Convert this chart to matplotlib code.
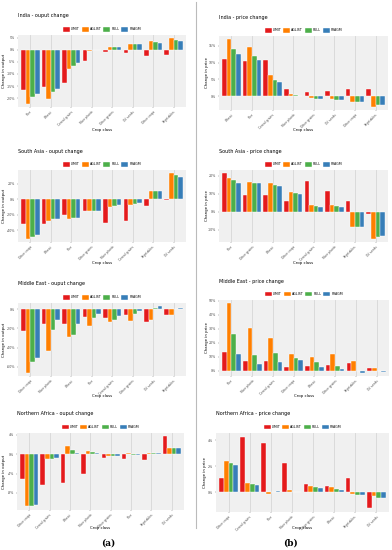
import numpy as np
import matplotlib
matplotlib.use("Agg")
import matplotlib.pyplot as plt

W, H = 392, 550

scenarios = ["LIMIT", "AGLIST", "FULL", "FRAGM"]
colors = ["#E41A1C", "#FF7F00", "#4DAF4A", "#377EB8"]

# India - output change
india_output_cats = ["Rice", "Wheat", "Cereal grains", "Fiber plants",
                     "Other grains", "Oil seeds", "Other crops", "Vegetables"]
india_output = {
    "LIMIT": [-16.8, -15.3, -13.9, -4.7, -0.9, -1.5, -2.6, -2.3],
    "AGLIST": [-22.3, -20.3, -8.1, -0.7, 1.3, 2.2, 3.4, 4.7],
    "FULL": [-19.6, -17.6, -6.6, -0.3, 1.3, 2.2, 3.1, 3.9],
    "FRAGM": [-18.4, -16.1, -5.7, -0.3, 1.3, 2.2, 2.8, 3.6],
}

# India - price change
india_price_cats = ["Wheat", "Rice", "Cereal grains", "Fiber plants",
                    "Other grains", "Oil seeds", "Other crops", "Vegetables"]
india_price = {
    "LIMIT": [11.1, 10.5, 10.9, 2.1, 1.2, 1.6, 2.1, 2.1],
    "AGLIST": [16.9, 14.6, 6.4, 0.6, -0.5, -0.9, -1.8, -3.1],
    "FULL": [13.9, 12.1, 4.9, 0.3, -0.7, -1.1, -1.7, -2.7],
    "FRAGM": [12.6, 10.7, 4.3, 0.05, -0.9, -1.1, -1.7, -2.7],
}

# South Asia - output change
sasia_output_cats = ["Other crops", "Wheat", "Rice", "Other grains",
                     "Fiber plants", "Cereal grains", "Vegetables", "Oil seeds"]
sasia_output = {
    "LIMIT": [-32, -32, -21, -15.5, -31, -28, -8.6, -1.3],
    "AGLIST": [-51, -28, -25, -15.5, -10, -7.7, 10.8, 33.5],
    "FULL": [-49, -26, -24.5, -15.5, -9, -6, 10.3, 31.4],
    "FRAGM": [-46, -25, -24, -15.5, -8, -5, 10.3, 28.8],
}

# South Asia - price change
sasia_price_cats = ["Rice", "Other grains", "Wheat", "Other crops",
                    "Cereal grains", "Fiber plants", "Vegetables", "Oil seeds"]
sasia_price = {
    "LIMIT": [21.5, 9.6, 9.6, 6.2, 17.1, 11.6, 5.9, -0.9],
    "AGLIST": [18.7, 16.7, 16.1, 11.0, 3.7, 4.0, -8.4, -14.9],
    "FULL": [17.6, 16.3, 15.2, 10.3, 3.1, 3.1, -8.4, -14.1],
    "FRAGM": [16.1, 16.0, 14.5, 9.7, 2.6, 2.6, -8.4, -13.2],
}

# Middle East - output change
meast_output_cats = ["Other crops", "Fiber plants", "Wheat", "Rice",
                     "Cereal grains", "Other grains", "Oil seeds", "Vegetables"]
meast_output = {
    "LIMIT": [-23, -15.4, -15.8, -8.4, -9.5, -6.7, -13, -6],
    "AGLIST": [-66, -43.5, -29, -17.2, -13, -12.3, -11.6, -6],
    "FULL": [-55, -21.8, -27, -9.5, -11.2, -5.3, 1.1, 0.1],
    "FRAGM": [-50.5, -11.2, -15.1, -5.6, -7.4, -2.5, 2.8, 1.3],
}

# Middle East - price change
meast_price_cats = ["Rice", "Fiber plants", "Cereal grains", "Other crops",
                    "Wheat", "Other grains", "Vegetables", "Oil seeds"]
meast_price = {
    "LIMIT": [13.2, 7.2, 6.8, 3.0, 3.2, 4.0, 5.8, 2.2],
    "AGLIST": [48.2, 31.0, 23.2, 11.8, 10.2, 12.0, 7.2, 2.2],
    "FULL": [26.7, 11.0, 12.7, 9.2, 6.0, 3.8, 0.0, -0.2],
    "FRAGM": [12.2, 4.8, 6.0, 7.8, 3.0, 1.5, -1.2, -1.0],
}

# Northern Africa - output change
nafr_output_cats = ["Other crops", "Cereal grains", "Wheat", "Fiber plants",
                    "Other grains", "Rice", "Vegetables", "Oil seeds"]
nafr_output = {
    "LIMIT": [-5.1, -6.3, -6.0, -4.0, -0.68, -0.96, -1.16, 3.68],
    "AGLIST": [-10.8, -0.96, 1.76, 0.72, -0.36, 0.2, 0.36, 1.24],
    "FULL": [-10.8, -0.96, 0.8, 0.44, -0.36, -0.16, 0.36, 1.24],
    "FRAGM": [-10.4, -0.8, 0.28, 0.28, -0.36, -0.16, 0.36, 1.24],
}

# Northern Africa - price change
nafr_price_cats = ["Other crops", "Cereal grains", "Rice", "Fiber plants",
                   "Other grains", "Wheat", "Vegetables", "Oil seeds"]
nafr_price = {
    "LIMIT": [1.12, 4.28, 3.78, 2.24, 0.64, 0.5, 1.09, -1.26],
    "AGLIST": [2.4, 0.7, -0.11, 0.17, 0.5, 0.36, -0.14, -0.31],
    "FULL": [2.22, 0.62, 0.0, 0.01, 0.36, 0.22, -0.22, -0.42],
    "FRAGM": [2.07, 0.56, 0.08, 0.03, 0.28, 0.17, -0.22, -0.42],
}

fig = plt.figure(figsize=(W / 100, H / 100), dpi=100)
fig.patch.set_facecolor("white")


def draw_panel(rect, title, ylabel, cats, values, yticks, xlabel_y, ylabel_x):
    x0, y0, x1, y1 = rect
    ax = fig.add_axes([x0 / W, 1 - y1 / H, (x1 - x0) / W, (y1 - y0) / H])
    ax.set_facecolor("#F0F0F0")
    x = np.arange(len(cats))
    width = 0.225
    for k, (name, color) in enumerate(zip(scenarios, colors)):
        ax.bar(x + (k - 1.5) * width, values[name], width, color=color,
               edgecolor="white", linewidth=0.3, label=name, zorder=2)

    all_vals = np.concatenate([values[n] for n in scenarios] + [[0.0]])
    lo, hi = all_vals.min(), all_vals.max()
    pad = 0.05 * (hi - lo)
    ax.set_ylim(lo - pad, hi + pad)
    ax.set_xlim(-0.6, len(cats) - 0.4)

    ax.set_xticks(x)
    ax.set_xticklabels(cats, rotation=45, ha="right", rotation_mode="anchor",
                       fontsize=2.2, color="#4D4D4D")
    ax.set_yticks(yticks)
    ax.set_yticklabels([f"{t}%" for t in yticks], fontsize=2.3, color="#4D4D4D")
    ax.tick_params(length=1, width=0.3, color="#666666", pad=1)
    ax.grid(axis="x", color="#D6D6D6", linewidth=0.6, zorder=0)
    ax.set_axisbelow(True)
    for spine in ax.spines.values():
        spine.set_visible(False)

    ax.set_xlabel("Crop class", fontsize=2.8, va="center")
    ax.xaxis.set_label_coords(0.5, -(xlabel_y - y1) / (y1 - y0))
    ax.set_ylabel(ylabel, fontsize=2.8, va="center")
    ax.yaxis.set_label_coords(-(x0 - ylabel_x) / (x1 - x0), 0.5)

    fig.text(x0 / W, 1 - (y0 - 19) / H, title, fontsize=3.5, va="center", ha="left")
    ax.legend(loc="lower center", bbox_to_anchor=(0.5, 1.03), ncol=4, frameon=False,
              fontsize=2.3, handlelength=2.2, handleheight=1.9, handletextpad=0.3,
              columnspacing=0.6, borderaxespad=0)
    return ax


draw_panel((18, 35, 186, 107), "India - ouput change", "Change in output",
           india_output_cats, india_output, [5, 0, -5, -10, -15, -20], 130, 4)
draw_panel((219, 36, 388, 110), "India - price change", "Change in price",
           india_price_cats, india_price, [15, 10, 5, 0], 130, 207)
draw_panel((18, 170, 186, 242), "South Asia - ouput change", "Change in output",
           sasia_output_cats, sasia_output, [20, 0, -20, -40], 263, 4)
draw_panel((219, 170, 388, 242), "South Asia - price change", "Change in price",
           sasia_price_cats, sasia_price, [20, 10, 0, -10], 263, 207)
draw_panel((18, 303, 186, 376), "Middle East - ouput change", "Change in output",
           meast_output_cats, meast_output, [0, -20, -40, -60], 396, 4)
draw_panel((219, 300, 389, 376), "Middle East - price change", "Change in price",
           meast_price_cats, meast_price, [50, 40, 30, 20, 10, 0], 396, 207)
draw_panel((17, 433, 184, 510), "Northern Africa - ouput change", "Change in output",
           nafr_output_cats, nafr_output, [4, 0, -4, -8], 528, 4)
draw_panel((216, 433, 389, 512), "Northern Africa - price change", "Change in price",
           nafr_price_cats, nafr_price, [4, 2, 0], 528, 205)

# separator between the two columns
fig.add_artist(plt.Line2D([196 / W, 196 / W], [1 - 2 / H, 1 - 528 / H],
                          color="#BBBBBB", linewidth=0.8))

fig.text(108 / W, 1 - 543 / H, "(a)", fontsize=6.5, fontweight="bold",
         family="DejaVu Serif", ha="center", va="center")
fig.text(290 / W, 1 - 543 / H, "(b)", fontsize=6.5, fontweight="bold",
         family="DejaVu Serif", ha="center", va="center")

fig.savefig("out.png", dpi=100, facecolor="white")
